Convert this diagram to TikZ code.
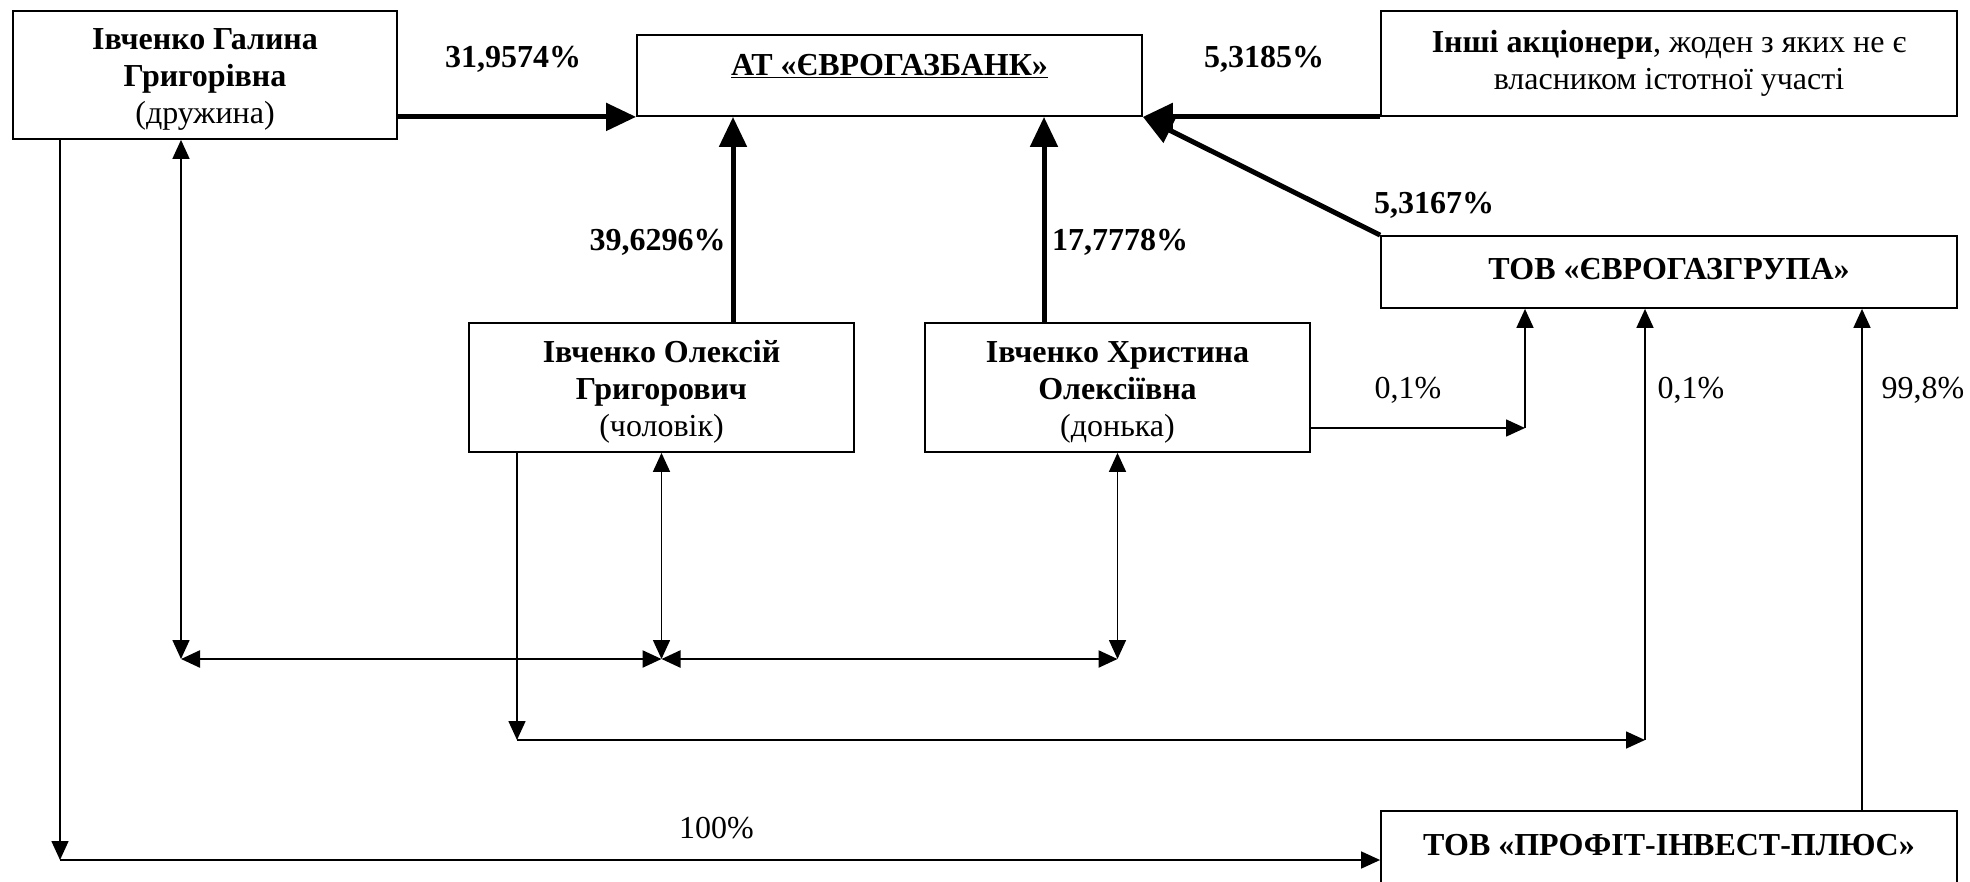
\documentclass[tikz,border=0pt]{standalone}
\usepackage{fontspec}
\setmainfont{Liberation Serif}
\usetikzlibrary{arrows.meta}
\begin{document}
\begin{tikzpicture}[x=1pt,y=-1pt,font=\fontsize{32}{37}\selectfont,
  box/.style={draw, line width=1.8pt, inner sep=0pt},
  txt/.style={align=center, inner sep=0pt},
  lab/.style={anchor=base, inner sep=0pt},
  conn/.style={line width=1.6pt, -{Triangle[length=19pt,width=17pt]}},
  conn2/.style={line width=1.6pt, {Triangle[length=19pt,width=17pt]}-{Triangle[length=19pt,width=17pt]}},
  heavy/.style={line width=5pt, -{Triangle[length=30pt,width=27pt]}}]
\useasboundingbox (0,0) rectangle (1970,881);
\fill[white] (0,0) rectangle (1970,881);
% boxes
\node[box, minimum width=384pt, minimum height=128pt] (gal) at (205,75) {};
\node[box, minimum width=505pt, minimum height=81pt] (bank) at (889.5,75.5) {};
\node[box, minimum width=576pt, minimum height=105pt] (inshi) at (1669,63.5) {};
\node[box, minimum width=576pt, minimum height=72pt] (evg) at (1669,272) {};
\node[box, minimum width=385pt, minimum height=129pt] (oleks) at (661.5,387.5) {};
\node[box, minimum width=385pt, minimum height=129pt] (khr) at (1117.5,387.5) {};
\node[box, minimum width=576pt, minimum height=100pt] (prof) at (1669,861) {};
% box texts
\node[txt] (galt) at ([yshift=-4pt]gal.center) {\textbf{Івченко Галина}\\\textbf{Григорівна}\\(дружина)};
\node[lab] (bankt) at (889.5,75) {\textbf{\underline{АТ «ЄВРОГАЗБАНК»}}};
\node[txt] (inshit) at (inshi.center) {\textbf{Інші акціонери}, жоден з яких не є\\власником істотної участі};
\node[lab] (evgt) at (1669,279) {\textbf{ТОВ «ЄВРОГАЗГРУПА»}};
\node[txt] (olekst) at ([yshift=-4.5pt]oleks.center) {\textbf{Івченко Олексій}\\\textbf{Григорович}\\(чоловік)};
\node[txt] (khrt) at ([yshift=-4.5pt]khr.center) {\textbf{Івченко Христина}\\\textbf{Олексіївна}\\(донька)};
\node[lab] (proft) at (1669,855) {\textbf{ТОВ «ПРОФІТ-ІНВЕСТ-ПЛЮС»}};
% percentage labels
\node[lab] (l1) at (513,67) {\textbf{31,9574\%}};
\node[lab] (l2) at (1264,67) {\textbf{5,3185\%}};
\node[lab] (l3) at (657.5,250) {\textbf{39,6296\%}};
\node[lab] (l4) at (1120,250) {\textbf{17,7778\%}};
\node[lab] (l5) at (1434,213) {\textbf{5,3167\%}};
\node[lab] (l6) at (1408,398) {0,1\%};
\node[lab] (l7) at (1691,398) {0,1\%};
\node[lab] (l8) at (1923,398) {99,8\%};
\node[lab] (l9) at (716.5,838) {100\%};
% heavy connectors to the bank
\draw[heavy] (gal.east |- bank.south) -- (bank.south west);
\draw[heavy] (inshi.south west) -- (bank.south east);
\draw[heavy] (evg.north west) -- (bank.south east);
\draw[heavy] ([xshift=71.5pt]oleks.north) -- ([xshift=71.5pt]oleks.north |- bank.south);
\draw[heavy] ([xshift=-73.5pt]khr.north) -- ([xshift=-73.5pt]khr.north |- bank.south);
% family relations
\coordinate (j1) at (181,659);
\coordinate (j2) at (oleks.south |- j1);
\coordinate (j3) at (khr.south |- j1);
\draw[conn2] (j1 |- gal.south) -- (j1);
\draw[conn2] (oleks.south) -- (j2);
\draw[conn2] (khr.south) -- (j3);
\draw[conn2, line width=2.4pt] (j1) -- (j2);
\draw[conn2, line width=2.4pt] (j2) -- (j3);
% Oleksiy -> Evrogazgrupa
\coordinate (k1) at (517,740);
\coordinate (k2) at (1645,740);
\draw[conn] (k1 |- oleks.south) -- (k1);
\draw[conn] (k1) -- (k2);
\draw[conn] (k2) -- (k2 |- evg.south);
% Khrystyna -> Evrogazgrupa
\coordinate (m1) at (1525,428);
\draw[conn] (khr.east |- m1) -- (m1);
\draw[conn] (m1) -- (m1 |- evg.south);
% Profit -> Evrogazgrupa
\coordinate (p1) at ([xshift=193pt]prof.north);
\draw[conn] (p1) -- (p1 |- evg.south);
% Galyna -> Profit
\coordinate (g1) at (60,860);
\draw[conn] (g1 |- gal.south) -- (g1);
\draw[conn] (g1) -- (prof.west |- g1);
\end{tikzpicture}
\end{document}
